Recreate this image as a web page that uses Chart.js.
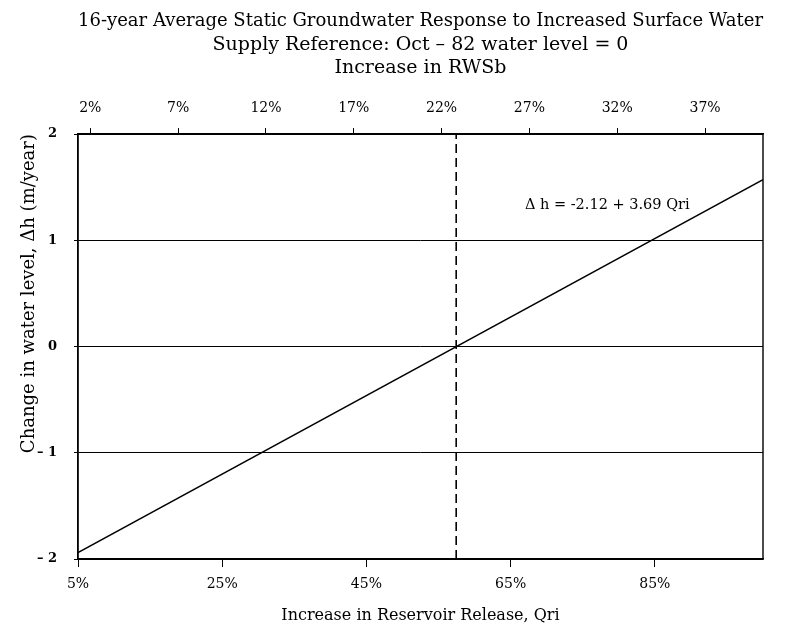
<!DOCTYPE html>
<html>
<head>
<meta charset="utf-8">
<script src="https://cdn.jsdelivr.net/npm/chart.js@4/dist/chart.umd.min.js"></script>
<style>
  html, body { margin: 0; padding: 0; background: #fff; }
  #wrap { width: 787px; height: 630px; }
</style>
</head>
<body>
<div id="wrap"><canvas id="c" width="787" height="630"></canvas></div>
<script>
// Chart text
const titleLines = [
  '16-year Average Static Groundwater Response to Increased Surface Water',
  'Supply Reference: Oct \u2013 82 water level = 0',
  'Increase in RWSb'
];
const xTitle = 'Increase in Reservoir Release, Qri';
const yTitle = 'Change in water level, \u0394h (m/year)';
const equationText = '\u0394 h = -2.12 + 3.69 Qri';

// Bottom axis: increase in reservoir release (%)
const qriTicks = [5, 25, 45, 65, 85];
const qriTickLabels = ['5%', '25%', '45%', '65%', '85%'];

// Top axis: increase in RWSb (%)
const rwsTicks = [2, 7, 12, 17, 22, 27, 32, 37];
const rwsTickLabels = ['2%', '7%', '12%', '17%', '22%', '27%', '32%', '37%'];

// Left axis: change in water level (m/year)
const dhTicks = [-2, -1, 0, 1, 2];
const dhTickLabels = ['\u2013 2', '\u2013 1', '0', '1', '2'];

// Regression line end points (Qri %, dh m/year)
const fitQri = [5, 100];
const fitDh = [-1.94, 1.57];

// Break-even release where dh = 0
const breakEvenQri = 57.45;
const breakEvenDh = [-2, 2];

// Equation label anchor (Qri %, dh)
const equationAt = [78.4, 1.33];

const SERIF = '"DejaVu Serif", "Liberation Serif", serif';

const frame = {
  id: 'frame',
  afterDatasetsDraw(chart) {
    const { ctx, chartArea: a, scales } = chart;
    ctx.save();
    ctx.strokeStyle = '#000';
    ctx.lineWidth = 1.4;
    ctx.strokeRect(a.left, a.top, a.right - a.left, a.bottom - a.top);
    ctx.fillStyle = '#000';
    ctx.font = '14.5px ' + SERIF;
    ctx.textAlign = 'center';
    ctx.textBaseline = 'middle';
    ctx.fillText(equationText,
      scales.x.getPixelForValue(equationAt[0]),
      scales.y.getPixelForValue(equationAt[1]));
    ctx.restore();
  }
};

new Chart(document.getElementById('c'), {
  type: 'line',
  data: {
    datasets: [
      {
        data: fitQri.map((q, i) => ({ x: q, y: fitDh[i] })),
        borderColor: '#000',
        borderWidth: 1.4,
        pointRadius: 0,
        xAxisID: 'x',
        yAxisID: 'y'
      },
      {
        data: breakEvenDh.map(d => ({ x: breakEvenQri, y: d })),
        borderColor: '#000',
        borderWidth: 1.6,
        borderDash: [9, 5],
        pointRadius: 0,
        xAxisID: 'x',
        yAxisID: 'y'
      }
    ]
  },
  options: {
    responsive: false,
    animation: false,
    devicePixelRatio: 1,
    layout: { padding: { left: 0, right: 24, top: 0, bottom: 0 } },
    plugins: {
      legend: { display: false },
      tooltip: { enabled: false },
      title: {
        display: true,
        fullSize: false,
        text: titleLines,
        color: '#000',
        font: { family: SERIF, size: 19, weight: 'normal', lineHeight: 1.25 },
        padding: { top: 9, bottom: 9 }
      }
    },
    scales: {
      x: {
        type: 'linear',
        position: 'bottom',
        min: 5,
        max: 100,
        afterBuildTicks: s => { s.ticks = qriTicks.map(v => ({ value: v })); },
        afterFit: s => { s.height = 71; },
        ticks: {
          autoSkip: false,
          maxRotation: 0,
          padding: 9,
          color: '#000',
          font: { family: SERIF, size: 14, lineHeight: 1.2 },
          callback: v => qriTickLabels[qriTicks.indexOf(v)]
        },
        grid: { drawOnChartArea: false, drawTicks: true, tickLength: 8, color: '#000', lineWidth: 1 },
        border: { display: true, color: '#000', width: 1.4 },
        title: {
          display: true,
          text: xTitle,
          color: '#000',
          font: { family: SERIF, size: 16, lineHeight: 1.2 },
          padding: { top: 0, bottom: 5 }
        }
      },
      x2: {
        type: 'linear',
        position: 'top',
        min: 1.3,
        max: 40.3,
        afterBuildTicks: s => { s.ticks = rwsTicks.map(v => ({ value: v })); },
        ticks: {
          autoSkip: false,
          maxRotation: 0,
          padding: 11,
          color: '#000',
          font: { family: SERIF, size: 14, lineHeight: 1.2 },
          callback: v => rwsTickLabels[rwsTicks.indexOf(v)]
        },
        grid: { drawOnChartArea: false, drawTicks: true, tickLength: 6, color: '#000', lineWidth: 1 },
        border: { display: true, color: '#000', width: 1.4 }
      },
      y: {
        type: 'linear',
        position: 'left',
        min: -2,
        max: 2,
        afterBuildTicks: s => { s.ticks = dhTicks.map(v => ({ value: v })); },
        afterFit: s => { s.width = 78; },
        ticks: {
          padding: 17,
          color: '#000',
          font: { family: SERIF, size: 13, weight: 'bold' },
          callback: v => dhTickLabels[dhTicks.indexOf(v)]
        },
        grid: { drawOnChartArea: true, drawTicks: true, tickLength: 4, color: '#000', lineWidth: 1 },
        border: { display: true, color: '#000', width: 1.4 },
        title: {
          display: true,
          align: 'end',
          text: yTitle,
          color: '#000',
          font: { family: SERIF, size: 18, lineHeight: 1.2 },
          padding: { top: 19, bottom: 0 }
        }
      }
    }
  },
  plugins: [frame]
});
</script>
</body>
</html>
